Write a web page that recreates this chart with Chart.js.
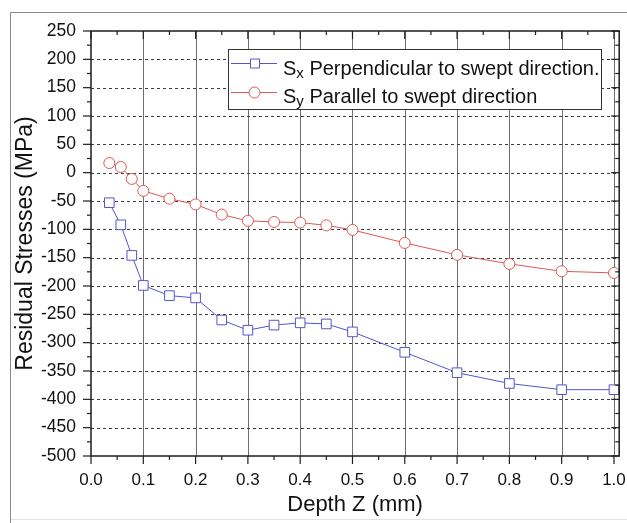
<!DOCTYPE html>
<html>
<head>
<meta charset="utf-8">
<script src="https://cdn.jsdelivr.net/npm/chart.js@4"></script>
<style>
  html, body { margin: 0; padding: 0; background: #fff; }
  canvas { display: block; }
</style>
</head>
<body>
<canvas id="c" width="627" height="523"></canvas>
<script>
// Depth below surface (mm)
const depths = [0.035, 0.057, 0.078, 0.1, 0.15, 0.2, 0.25, 0.3, 0.35, 0.4, 0.45, 0.5, 0.6, 0.7, 0.8, 0.9, 1.0];
// Residual stress perpendicular to swept direction (MPa)
const stressX = [-53, -92, -146, -199, -217, -221, -260, -278, -269, -265, -267, -281, -317, -353, -372, -383, -383];
// Residual stress parallel to swept direction (MPa)
const stressY = [17, 10, -11, -32, -46, -56, -74, -85, -87, -88, -93, -101, -124, -145, -161, -174, -177];

const seriesSymbols = ['x', 'y'];
const seriesNames = ['Perpendicular to swept direction.', 'Parallel to swept direction'];

const xTicks = [0, 0.1, 0.2, 0.3, 0.4, 0.5, 0.6, 0.7, 0.8, 0.9, 1.0];
const xMinorTicks = [0.05, 0.15, 0.25, 0.35, 0.45, 0.55, 0.65, 0.75, 0.85, 0.95];
const yTicks = [250, 200, 150, 100, 50, 0, -50, -100, -150, -200, -250, -300, -350, -400, -450, -500];
const yMinorTicks = [225, 175, 125, 75, 25, -25, -75, -125, -175, -225, -275, -325, -375, -425, -475];

const FONT = '"Liberation Sans", Arial, sans-serif';
const BLUE = '#5555cc';
const RED = '#dd5858';

const toPoints = (ys) => depths.map((d, i) => ({ x: d, y: ys[i] }));

// Page frame, grid lines, axis frame with tick marks, and the legend box
const decorations = {
  id: 'decorations',
  beforeDraw(chart) {
    const ctx = chart.ctx;
    ctx.save();
    ctx.fillStyle = '#fff';
    ctx.fillRect(0, 0, chart.width, chart.height);
    ctx.strokeStyle = '#8a8a8a';
    ctx.lineWidth = 1;
    ctx.beginPath();
    ctx.moveTo(10.5, chart.height);
    ctx.lineTo(10.5, 12.5);
    ctx.lineTo(chart.width, 12.5);
    ctx.stroke();
    ctx.strokeStyle = '#e2e2e2';
    ctx.beginPath();
    ctx.moveTo(11, 519.5);
    ctx.lineTo(chart.width, 519.5);
    ctx.stroke();
    ctx.restore();
  },
  beforeDatasetsDraw(chart) {
    const { ctx, chartArea: a, scales: { x, y } } = chart;
    ctx.save();
    // vertical solid grid
    ctx.strokeStyle = '#6e6e6e';
    ctx.lineWidth = 1;
    xTicks.forEach(v => {
      if (v === 0) return;
      const px = Math.round(x.getPixelForValue(v)) + 0.5;
      ctx.beginPath();
      ctx.moveTo(px, a.top);
      ctx.lineTo(px, a.bottom);
      ctx.stroke();
    });
    // horizontal dashed grid
    ctx.strokeStyle = '#3c3c3c';
    ctx.setLineDash([3, 3]);
    yTicks.forEach(v => {
      if (v === 250 || v === -500) return;
      const py = Math.round(y.getPixelForValue(v)) + 0.5;
      ctx.beginPath();
      ctx.moveTo(a.left, py);
      ctx.lineTo(a.right, py);
      ctx.stroke();
    });
    ctx.restore();
  },
  afterDraw(chart) {
    const { ctx, chartArea: a, scales: { x, y } } = chart;
    ctx.save();
    ctx.strokeStyle = '#1e1e1e';
    ctx.lineWidth = 1.5;
    ctx.strokeRect(a.left, a.top, a.right - a.left, a.bottom - a.top);
    ctx.lineWidth = 1.2;
    const seg = (x1, y1, x2, y2) => { ctx.beginPath(); ctx.moveTo(x1, y1); ctx.lineTo(x2, y2); ctx.stroke(); };
    const MAJ = 8, MIN = 4;
    xTicks.forEach(v => {
      const px = x.getPixelForValue(v);
      seg(px, a.bottom, px, a.bottom + MAJ);
      seg(px, a.top, px, a.top + MAJ);
    });
    xMinorTicks.forEach(v => {
      const px = x.getPixelForValue(v);
      seg(px, a.bottom, px, a.bottom + MIN);
      seg(px, a.top, px, a.top + MIN);
    });
    yTicks.forEach(v => {
      const py = y.getPixelForValue(v);
      seg(a.left - MAJ, py, a.left, py);
      seg(a.right - MAJ, py, a.right, py);
    });
    yMinorTicks.forEach(v => {
      const py = y.getPixelForValue(v);
      seg(a.left - MIN, py, a.left, py);
      seg(a.right - MIN, py, a.right, py);
    });

    // legend
    const bx = 228.5, by = 49.5, bw = 373, bh = 60;
    ctx.fillStyle = '#fff';
    ctx.fillRect(bx, by, bw, bh);
    ctx.strokeStyle = '#333';
    ctx.lineWidth = 1;
    ctx.strokeRect(bx, by, bw, bh);
    const rows = [
      { ly: 63.5, base: 74.5, color: BLUE, shape: 'rect' },
      { ly: 92.5, base: 102.5, color: RED, shape: 'circle' }
    ];
    rows.forEach((r, i) => {
      ctx.strokeStyle = r.color;
      ctx.lineWidth = 1;
      seg(231, r.ly, 277, r.ly);
      ctx.fillStyle = '#fff';
      ctx.beginPath();
      if (r.shape === 'rect') {
        ctx.rect(250.5, r.ly - 4.5, 9, 9);
      } else {
        ctx.arc(254.5, r.ly, 5.5, 0, Math.PI * 2);
      }
      ctx.fill();
      ctx.stroke();
      ctx.fillStyle = '#111';
      ctx.textBaseline = 'alphabetic';
      ctx.textAlign = 'left';
      let tx = 283;
      ctx.font = '20px ' + FONT;
      ctx.fillText('S', tx, r.base);
      tx += ctx.measureText('S').width;
      ctx.font = '15px ' + FONT;
      ctx.fillText(seriesSymbols[i], tx, r.base + 3);
      tx += ctx.measureText(seriesSymbols[i]).width;
      ctx.font = '20px ' + FONT;
      ctx.fillText(' ' + seriesNames[i], tx, r.base);
    });
    ctx.restore();
  }
};

new Chart(document.getElementById('c'), {
  type: 'scatter',
  data: {
    datasets: [
      {
        label: 'Sx ' + seriesNames[0],
        data: toPoints(stressX),
        showLine: true,
        borderColor: BLUE,
        borderWidth: 1,
        pointStyle: 'rect',
        pointRadius: 6.8,
        pointHoverRadius: 6.8,
        pointBackgroundColor: '#fff',
        pointBorderColor: BLUE,
        pointBorderWidth: 1,
        clip: false
      },
      {
        label: 'Sy ' + seriesNames[1],
        data: toPoints(stressY),
        showLine: true,
        borderColor: RED,
        borderWidth: 1,
        pointStyle: 'circle',
        pointRadius: 5.5,
        pointHoverRadius: 5.5,
        pointBackgroundColor: '#fff',
        pointBorderColor: RED,
        pointBorderWidth: 1,
        clip: false
      }
    ]
  },
  options: {
    responsive: false,
    animation: false,
    events: [],
    layout: { padding: { left: 0, right: 6, top: 31, bottom: 0 } },
    plugins: { legend: { display: false }, tooltip: { enabled: false } },
    scales: {
      x: {
        type: 'linear',
        min: 0,
        max: 1.01,
        afterBuildTicks: s => { s.ticks = xTicks.map(v => ({ value: v })); },
        afterFit: s => { s.height = 67; s.paddingLeft = 0; s.paddingRight = 0; },
        grid: { display: false, drawTicks: false },
        border: { display: false },
        ticks: {
          padding: 14,
          color: '#111',
          font: { family: FONT, size: 17 },
          maxRotation: 0,
          autoSkip: false,
          callback: v => Number(v).toFixed(1)
        },
        title: {
          display: true,
          text: 'Depth Z (mm)',
          color: '#111',
          font: { family: FONT, size: 22 },
          padding: { top: 0, bottom: 5 }
        }
      },
      y: {
        type: 'linear',
        min: -500,
        max: 250,
        afterBuildTicks: s => { s.ticks = yTicks.map(v => ({ value: v })); },
        afterFit: s => { s.width = 91; s.paddingTop = 0; s.paddingBottom = 0; },
        grid: { display: false, drawTicks: false },
        border: { display: false },
        ticks: {
          padding: 15,
          color: '#111',
          font: { family: FONT, size: 17.5 },
          autoSkip: false,
          callback: v => String(v)
        },
        title: {
          display: true,
          text: 'Residual Stresses (MPa)',
          color: '#111',
          font: { family: FONT, size: 23 },
          padding: { top: 12, bottom: 0 }
        }
      }
    }
  },
  plugins: [decorations]
});
</script>
</body>
</html>
